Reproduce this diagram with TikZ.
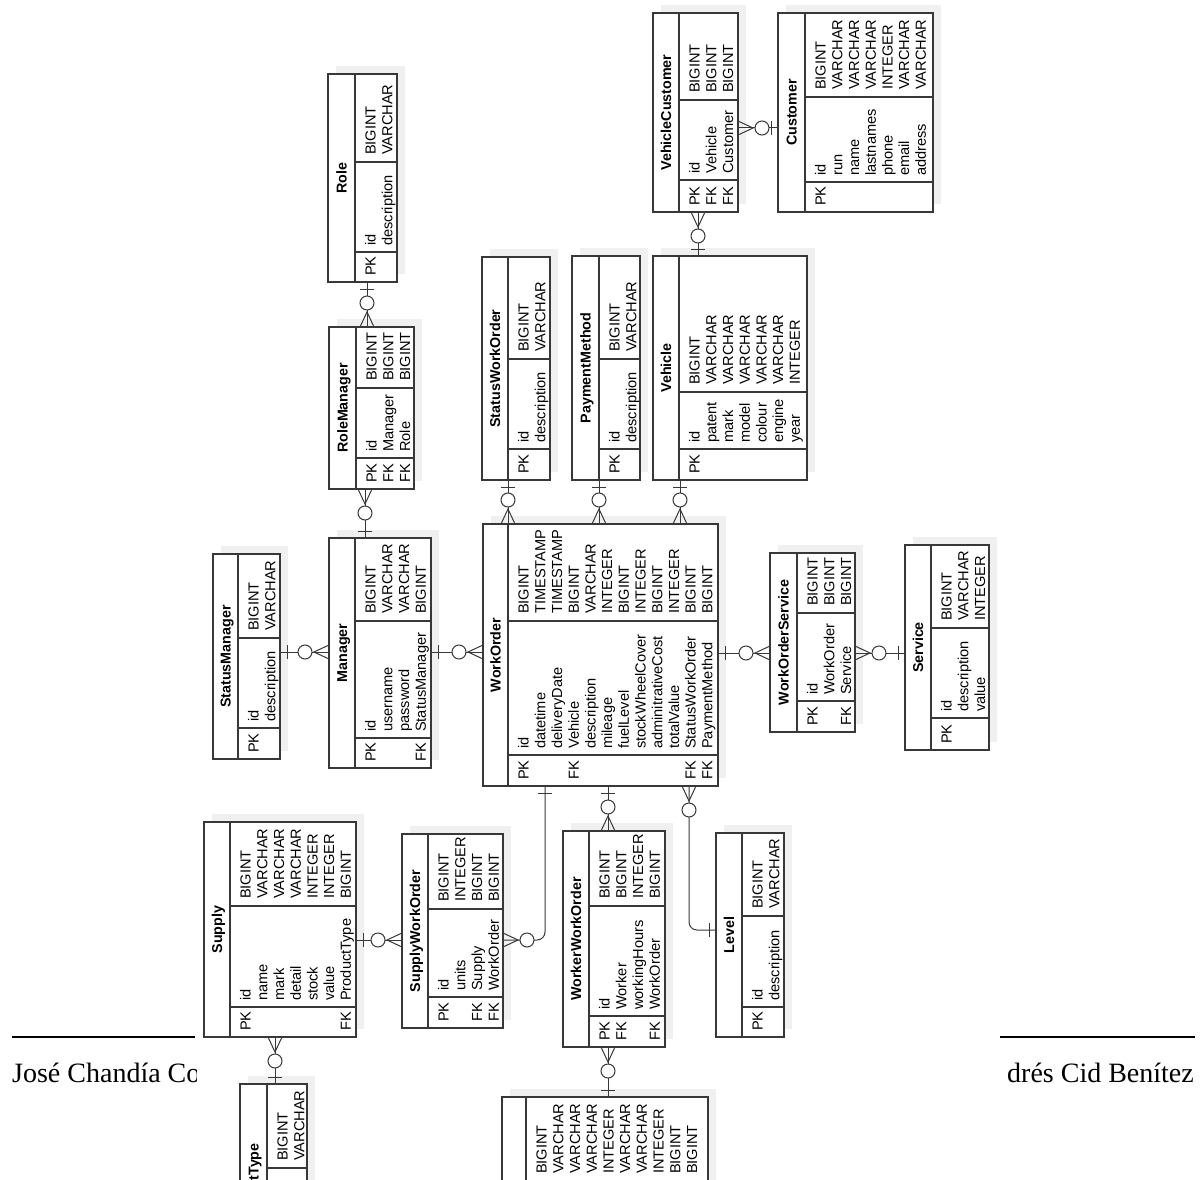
\documentclass[tikz,border=0pt]{standalone}
\usepackage{fontspec}
\setmainfont{Liberation Sans}
\newfontfamily\footfont{Liberation Serif}
\tikzset{
 tline/.style={draw=black!78, line width=1.15pt},
 conn/.style={draw=black!78, line width=1pt},
 tbox/.style={draw=black!78, line width=1.15pt, fill=white, inner sep=0pt, outer sep=0pt, rectangle},
 ttext/.style={rotate=90, anchor=base west, inner sep=0pt, font=\fontsize{14.6}{16}\selectfont},
 ttitle/.style={rotate=90, anchor=base, inner sep=0pt, font=\fontsize{14.3}{16}\selectfont\bfseries},
 shadowc/.style={fill=black!6},
 footer/.style={inner sep=0pt, font=\footfont\fontsize{28}{32}\selectfont},
}
\newcommand\ertable[9]{%
 \gdef\erxs{#3}\gdef\eryt{#6}\gdef\eryk{#7}\gdef\eryb{#8}%
 \fill[shadowc] ({#2+8},{#5-8}) rectangle ({#4+8},{#8-8});
 \node[tbox, minimum width={(#4-#2)*1pt}, minimum height={(#8-#5)*1pt}] (#1) at ({(#2+#4)/2},{(#5+#8)/2}) {};
 \draw[tline] (#3,#5) -- (#3,#8);
 \draw[tline] (#3,#6) -- (#4,#6);
 \draw[tline] (#3,#7) -- (#4,#7);
 \node[ttitle] at ({(#2+#3)/2+5.1},{(#5+#8)/2}) {#9};
}
\newcommand\errows[1]{%
 \foreach \kA/\nA/\tA [count=\iA from 0] in {#1} {%
   \pgfmathsetmacro\bxA{\erxs+15.5+16.7*\iA+5.2}
   \node[ttext] at (\bxA,\eryb-6) {\kA};
   \node[ttext] at (\bxA,\eryk-6) {\nA};
   \node[ttext] at (\bxA,\eryt-7) {\tA};
 }}
\newcommand\manyend[2]{%
 \begin{scope}[shift={(#1)}, rotate=#2]
  \draw[conn] (0,7) -- (15,0) -- (0,-7);
  \draw[conn, fill=white] (24,0) circle (7);
 \end{scope}}
\newcommand\oneend[2]{%
 \begin{scope}[shift={(#1)}, rotate=#2]
  \draw[conn] (7,7) -- (7,-7);
 \end{scope}}
\begin{document}
\begin{tikzpicture}[x=1pt, y=-1pt]
\useasboundingbox (0,0) rectangle (1202,1180);
\clip (0,0) rectangle (1202,1180);
% footer
\draw[line width=1.7pt] (12,1037) -- (195,1037);
\begin{scope}
 \clip (0,1040) rectangle (196,1110);
 \node[footer, anchor=base west] (f1) at (12,1082) {José Chandía Co};
\end{scope}
\draw[line width=1.7pt] (1000,1037) -- (1195,1037);
\begin{scope}
 \clip (1000,1040) rectangle (1202,1110);
 \node[footer, anchor=base east] (f2) at (1194,1082) {drés Cid Benítez};
\end{scope}
% tables
\ertable{VC}{653}{679}{738}{13}{100}{180}{212}{VehicleCustomer}
\errows{PK/id/BIGINT, FK/Vehicle/BIGINT, FK/Customer/BIGINT}
\ertable{Cust}{778}{805}{933}{13}{97}{182}{212}{Customer}
\errows{PK/id/BIGINT, /run/VARCHAR, /name/VARCHAR, /lastnames/VARCHAR, /phone/INTEGER, /email/VARCHAR, /address/VARCHAR}
\ertable{Veh}{653}{679}{807}{256}{392}{449}{480}{Vehicle}
\errows{PK/id/BIGINT, /patent/VARCHAR, /mark/VARCHAR, /model/VARCHAR, /colour/VARCHAR, /engine/VARCHAR, /year/INTEGER}
\ertable{PM}{572}{599}{640}{256}{359}{449}{480}{PaymentMethod}
\errows{PK/id/BIGINT, /description/VARCHAR}
\ertable{STWO}{482}{508}{550}{257}{359}{449}{480}{StatusWorkOrder}
\errows{PK/id/BIGINT, /description/VARCHAR}
\ertable{Role}{328}{355}{397}{74}{162}{252}{282}{Role}
\errows{PK/id/BIGINT, /description/VARCHAR}
\ertable{RM}{329}{356}{414}{327}{388}{458}{489}{RoleManager}
\errows{PK/id/BIGINT, FK/Manager/BIGINT, FK/Role/BIGINT}
\ertable{Man}{329}{355}{431}{538}{621}{738}{768}{Manager}
\errows{PK/id/BIGINT, /username/VARCHAR, /password/VARCHAR, FK/StatusManager/BIGINT}
\ertable{SM}{213}{238}{280}{554}{638}{728}{759}{StatusManager}
\errows{PK/id/BIGINT, /description/VARCHAR}
\ertable{WO}{483}{508}{718}{524}{621}{755}{786}{WorkOrder}
\errows{PK/id/BIGINT, /datetime/TIMESTAMP, /deliveryDate/TIMESTAMP, FK/Vehicle/BIGINT, /description/VARCHAR, /mileage/INTEGER, /fuelLevel/BIGINT, /stockWheelCover/INTEGER, /adminitrativeCost/BIGINT, /totalValue/INTEGER, FK/StatusWorkOrder/BIGINT, FK/PaymentMethod/BIGINT}
\ertable{WOS}{770}{797}{855}{553}{613}{701}{732}{WorkOrderService}
\errows{PK/id/BIGINT, /WorkOrder/BIGINT, FK/Service/BIGINT}
\ertable{Serv}{905}{931}{989}{545}{628}{718}{750}{Service}
\errows{PK/id/BIGINT, /description/VARCHAR, /value/INTEGER}
\ertable{Sup}{204}{230}{356}{822}{906}{1007}{1037}{Supply}
\errows{PK/id/BIGINT, /name/VARCHAR, /mark/VARCHAR, /detail/VARCHAR, /stock/INTEGER, /value/INTEGER, FK/ProductType/BIGINT}
\ertable{SUWO}{402}{428}{503}{834}{909}{997}{1028}{SupplyWorkOrder}
\errows{PK/id/BIGINT, /units/INTEGER, FK/Supply/BIGINT, FK/WorkOrder/BIGINT}
\ertable{WWO}{563}{589}{665}{831}{906}{1016}{1047}{WorkerWorkOrder}
\errows{PK/id/BIGINT, FK/Worker/BIGINT, /workingHours/INTEGER, FK/WorkOrder/BIGINT}
\ertable{Lev}{716}{742}{784}{833}{916}{1007}{1037}{Level}
\errows{PK/id/BIGINT, /description/VARCHAR}
\ertable{PT}{240}{267}{307}{1084}{1168}{1258}{1289}{ProductType}
\errows{//BIGINT, //VARCHAR}
\ertable{Wk}{502}{526}{708}{1097}{1181}{1300}{1360}{}
\errows{//BIGINT, //VARCHAR, //VARCHAR, //VARCHAR, //INTEGER, //VARCHAR, //VARCHAR, //INTEGER, //BIGINT, //BIGINT}
% connectors
\coordinate (c1m) at (VC.east |- 0,128); \coordinate (c1o) at (Cust.west |- 0,128);
\draw[conn] (VC.east |- 0,128) -- (Cust.west |- 0,128); \manyend{c1m}{0}\oneend{c1o}{180}
\coordinate (c2m) at (VC.south -| 698,0); \coordinate (c2o) at (Veh.north -| 698,0);
\draw[conn] (VC.south -| 698,0) -- (Veh.north -| 698,0); \manyend{c2m}{270}\oneend{c2o}{90}
\coordinate (c3m) at (RM.north -| 367,0); \coordinate (c3o) at (Role.south -| 367,0);
\draw[conn] (RM.north -| 367,0) -- (Role.south -| 367,0); \manyend{c3m}{90}\oneend{c3o}{270}
\coordinate (c4m) at (RM.south -| 365,0); \coordinate (c4o) at (Man.north -| 365,0);
\draw[conn] (RM.south -| 365,0) -- (Man.north -| 365,0); \manyend{c4m}{270}\oneend{c4o}{90}
\coordinate (c5m) at (Man.west |- 0,652); \coordinate (c5o) at (SM.east |- 0,652);
\draw[conn] (Man.west |- 0,652) -- (SM.east |- 0,652); \manyend{c5m}{180}\oneend{c5o}{0}
\coordinate (c6m) at (WO.west |- 0,652); \coordinate (c6o) at (Man.east |- 0,652);
\draw[conn] (WO.west |- 0,652) -- (Man.east |- 0,652); \manyend{c6m}{180}\oneend{c6o}{0}
\coordinate (c7m) at (WO.north -| 508,0); \coordinate (c7o) at (STWO.south -| 508,0);
\draw[conn] (WO.north -| 508,0) -- (STWO.south -| 508,0); \manyend{c7m}{90}\oneend{c7o}{270}
\coordinate (c8m) at (WO.north -| 599,0); \coordinate (c8o) at (PM.south -| 599,0);
\draw[conn] (WO.north -| 599,0) -- (PM.south -| 599,0); \manyend{c8m}{90}\oneend{c8o}{270}
\coordinate (c9m) at (WO.north -| 680,0); \coordinate (c9o) at (Veh.south -| 680,0);
\draw[conn] (WO.north -| 680,0) -- (Veh.south -| 680,0); \manyend{c9m}{90}\oneend{c9o}{270}
\coordinate (c10m) at (WOS.west |- 0,653); \coordinate (c10o) at (WO.east |- 0,653);
\draw[conn] (WOS.west |- 0,653) -- (WO.east |- 0,653); \manyend{c10m}{180}\oneend{c10o}{0}
\coordinate (c11m) at (WOS.east |- 0,653); \coordinate (c11o) at (Serv.west |- 0,653);
\draw[conn] (WOS.east |- 0,653) -- (Serv.west |- 0,653); \manyend{c11m}{0}\oneend{c11o}{180}
\coordinate (c12m) at (SUWO.east |- 0,940); \coordinate (c12o) at (WO.south -| 545,0);
\draw[conn, rounded corners=8pt] (WO.south -| 545,0) |- (SUWO.east |- 0,940); \manyend{c12m}{0}\oneend{c12o}{270}
\coordinate (c13m) at (SUWO.west |- 0,940); \coordinate (c13o) at (Sup.east |- 0,940);
\draw[conn] (SUWO.west |- 0,940) -- (Sup.east |- 0,940); \manyend{c13m}{180}\oneend{c13o}{0}
\coordinate (c14m) at (WWO.north -| 608,0); \coordinate (c14o) at (WO.south -| 608,0);
\draw[conn] (WWO.north -| 608,0) -- (WO.south -| 608,0); \manyend{c14m}{90}\oneend{c14o}{270}
\coordinate (c15m) at (WWO.south -| 608,0); \coordinate (c15o) at (Wk.north -| 608,0);
\draw[conn] (WWO.south -| 608,0) -- (Wk.north -| 608,0); \manyend{c15m}{270}\oneend{c15o}{90}
\coordinate (c16m) at (WO.south -| 689,0); \coordinate (c16o) at (Lev.west |- 0,930);
\draw[conn, rounded corners=8pt] (WO.south -| 689,0) |- (Lev.west |- 0,930); \manyend{c16m}{270}\oneend{c16o}{180}
\coordinate (c17m) at (Sup.south -| 275,0); \coordinate (c17o) at (PT.north -| 275,0);
\draw[conn] (Sup.south -| 275,0) -- (PT.north -| 275,0); \manyend{c17m}{270}\oneend{c17o}{90}
\end{tikzpicture}
\end{document}
